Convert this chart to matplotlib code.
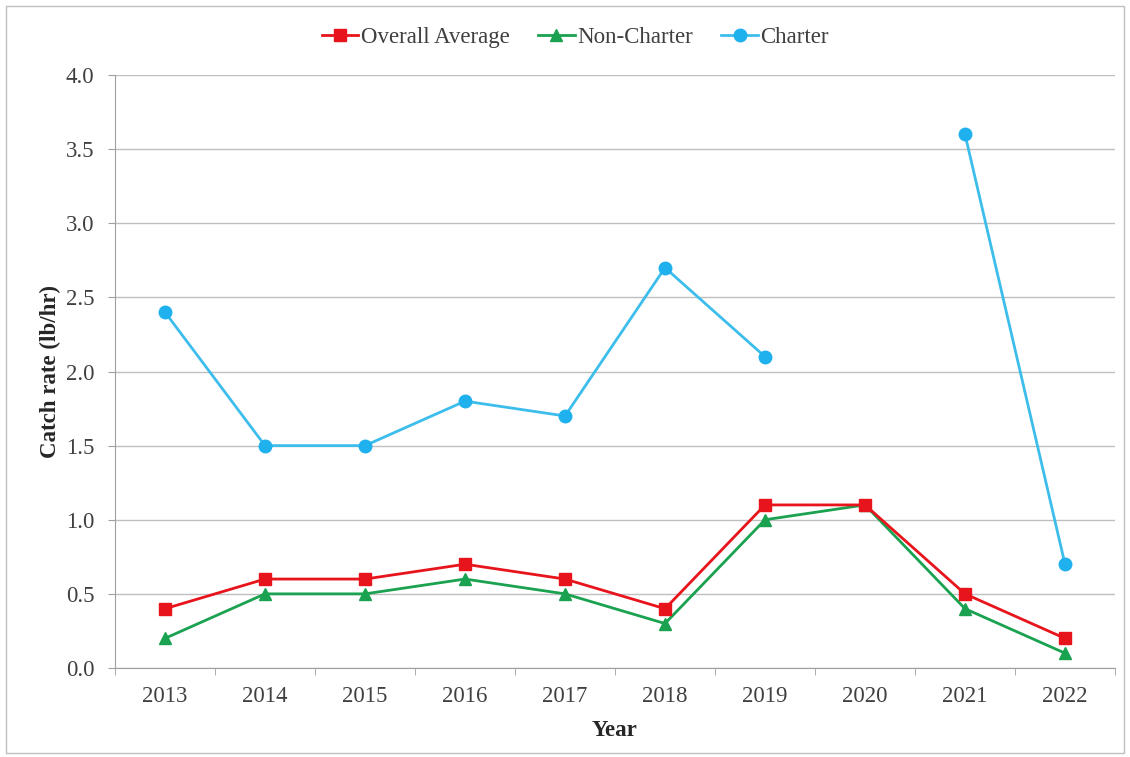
import numpy as np
import matplotlib.pyplot as plt
from matplotlib.patches import Rectangle

plt.rcParams['font.family'] = ['Liberation Serif', 'DejaVu Serif']

# data
years = ['2013', '2014', '2015', '2016', '2017', '2018', '2019', '2020', '2021', '2022']
overall = [0.4, 0.6, 0.6, 0.7, 0.6, 0.4, 1.1, 1.1, 0.5, 0.2]
non_charter = [0.2, 0.5, 0.5, 0.6, 0.5, 0.3, 1.0, 1.1, 0.4, 0.1]
charter = [2.4, 1.5, 1.5, 1.8, 1.7, 2.7, 2.1, np.nan, 3.6, 0.7]

x = np.arange(len(years))

fig = plt.figure(figsize=(11.3, 7.57), dpi=100)
ax = fig.add_axes([115 / 1130, 1 - 668 / 757, 1000 / 1130, 593 / 757])

# non-charter first so the average sits on top
l2, = ax.plot(x, non_charter, color='#1AA251', marker='^', markersize=8, lw=2, label='Non-Charter')
l1, = ax.plot(x, overall, color='#E8141C', marker='s', markersize=8, lw=2, label='Overall Average')
l3, = ax.plot(x, charter, color='#3DBDEB', marker='o', markersize=9, lw=2,
              markerfacecolor='#1EB1EE', markeredgecolor='#1EB1EE', label='Charter')

ax.set_xlim(-0.5, len(years) - 0.5)
ax.set_ylim(0, 4.0)
ax.set_yticks(np.arange(0, 4.01, 0.5))
ax.set_yticklabels(['%.1f' % v for v in np.arange(0, 4.01, 0.5)])
ax.set_xticks(x)
ax.set_xticklabels(years)
ax.set_xticks(np.arange(-0.5, len(years), 1), minor=True)
ax.tick_params(axis='x', which='major', length=0, pad=13, labelsize=16.5, labelcolor='#404040')
ax.tick_params(axis='x', which='minor', length=5, color='#A0A0A0', direction='out')
ax.tick_params(axis='y', length=5, color='#A0A0A0', pad=10, labelsize=16.5, labelcolor='#404040')

ax.grid(axis='y', color='#BFBFBF', lw=1)
ax.set_axisbelow(True)
for s in ['top', 'right']:
    ax.spines[s].set_visible(False)
for s in ['left', 'bottom']:
    ax.spines[s].set_color('#A0A0A0')

ax.set_xlabel('Year', fontsize=16.5, fontweight='bold', labelpad=9, color='#262626')
ax.set_ylabel('Catch rate (lb/hr)', fontsize=16.5, fontweight='bold', labelpad=3, color='#262626')

fig.legend(handles=[l1, l2, l3], loc='center', bbox_to_anchor=(0.509, 1 - 37 / 757),
           ncol=3, frameon=False, fontsize=16.5, handlelength=1.6, handletextpad=0.1,
           columnspacing=1.25, labelcolor='#404040')

# outer border like the chart frame
fig.patches.append(Rectangle((6 / 1130, 4 / 757), 1118 / 1130, 747 / 757,
                             transform=fig.transFigure, fill=False,
                             edgecolor='#BFBFBF', lw=1))

fig.savefig('out.png', dpi=100)
